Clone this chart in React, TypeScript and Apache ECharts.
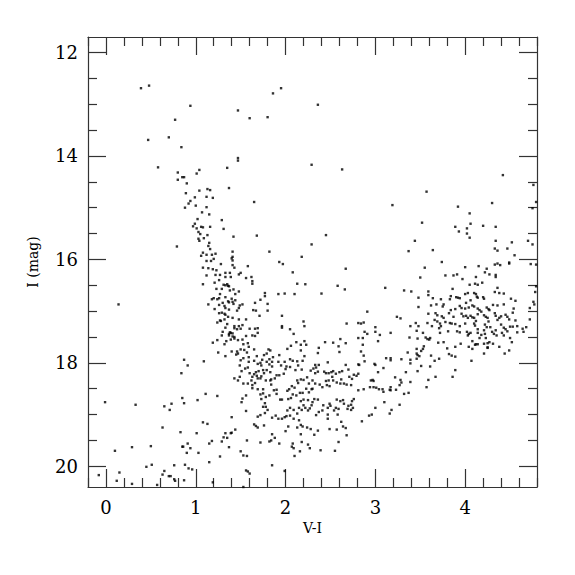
import React, { useEffect, useRef } from "react";
import * as echarts from "echarts";

// Colour-magnitude diagram: [V-I, I]
const upperField: number[][] = [
  [0.39,12.69],[0.48,12.64],[0.94,13.03],[1.47,13.12],[0.77,13.30],[0.70,13.64],[0.47,13.69],[0.84,13.83],
  [1.47,14.04],[1.47,14.09],[0.58,14.22],[1.35,14.23],[1.04,14.27],[1.01,14.34],[0.80,14.32],[0.85,14.41],
  [0.87,14.41],[0.80,14.46],[0.90,14.53],[1.95,12.69],[1.86,12.79],[2.36,13.01],[1.60,13.27],[1.80,13.25],
  [2.29,14.17],[2.63,14.26],[4.42,14.37],[4.76,14.56]
];

const giantBranch: number[][] = [
  [0.89,14.72],[1.04,14.67],[1.13,14.64],[1.16,14.66],[1.37,14.62],[0.99,14.80],[1.12,14.79],[1.19,14.81],
  [0.94,14.87],[0.92,14.92],[1.00,14.96],[0.88,15.00],[1.12,14.99],[1.07,15.09],[1.15,15.13],[1.02,15.22],
  [1.29,15.24],[0.99,15.31],[0.97,15.36],[1.06,15.37],[1.08,15.38],[1.01,15.40],[1.16,15.37],[1.31,15.41],
  [1.03,15.47],[1.05,15.51],[1.13,15.53],[1.09,15.59],[1.03,15.60],[1.04,15.64],[1.42,15.56],[1.15,15.68],
  [1.14,15.74],[0.79,15.75],[1.16,15.80],[1.08,15.87],[1.22,15.89],[1.41,15.85],[1.06,15.93],[1.12,15.91],
  [1.18,15.91],[1.41,15.95],[1.40,15.98],[1.20,15.99],[1.12,16.03],[1.17,16.03],[1.41,16.02],[1.28,16.09],
  [1.41,16.11],[1.08,16.16],[1.14,16.17],[1.19,16.19],[1.23,16.21],[1.43,16.16],[1.33,16.26],[1.38,16.26],
  [1.27,16.30],[1.22,16.30],[1.12,16.31],[1.33,16.34],[1.39,16.34],[1.21,16.45],[1.26,16.40],[1.08,16.48],
  [1.31,16.49],[1.33,16.50],[1.36,16.51],[1.37,16.52],[1.35,16.48],[1.23,16.57],[1.42,16.58],[1.29,16.57],
  [1.38,16.60],[1.44,16.67],[1.27,16.67],[1.33,16.73],[1.20,16.75],[1.18,16.77],[1.24,16.77],[1.26,16.75],
  [1.40,16.76],[1.44,16.79],[1.36,16.81],[1.37,16.83],[1.30,16.84],[1.42,16.86],[1.41,16.82],[1.14,16.87],
  [1.26,16.88],[0.14,16.87],[1.33,16.94],[1.32,16.90],[1.21,16.96],[1.37,16.97],[1.46,16.99],[1.29,17.03],
  [1.26,17.04],[1.33,17.07],[1.32,17.05],[1.36,17.11],[1.41,17.13],[1.32,17.16],[1.27,17.18],[1.28,17.19],
  [1.24,17.22],[1.35,17.25],[1.43,17.29],[1.33,17.32],[1.43,17.33],[1.46,17.35],[1.30,17.40],[1.38,17.41],
  [1.39,17.42],[1.41,17.43],[1.37,17.44],[1.29,17.47],[1.37,17.47],[1.41,17.49]
];

const midField: number[][] = [
  [1.65,14.89],[1.68,15.54],[2.45,15.53],[2.29,15.71],[1.82,15.85],[2.18,15.95],[1.93,16.05],[1.97,16.09],
  [1.58,16.13],[2.67,16.18],[1.50,16.26],[1.48,16.29],[2.08,16.25],[1.62,16.34],[1.56,16.36],[1.63,16.42],
  [1.63,16.47],[2.13,16.47],[2.22,16.48],[2.58,16.51],[2.66,16.58],[3.11,16.55],[1.48,16.62],[1.77,16.65],
  [1.77,16.71],[1.92,16.67],[1.99,16.66],[2.10,16.67],[2.40,16.66],[1.72,16.78],[1.52,16.87],[1.49,16.89],
  [1.48,16.94],[1.66,16.84],[1.80,16.86],[1.64,16.98],[1.67,16.99],[1.80,16.99],[1.71,17.09],[1.96,17.09],
  [2.91,17.01],[1.56,17.16],[1.48,17.16],[2.20,17.20],[1.52,17.27],[1.48,17.29],[1.96,17.29],[1.96,17.32],
  [2.21,17.29],[2.68,17.24],[2.81,17.23],[2.84,17.24],[2.87,17.22],[3.00,17.31],[1.50,17.34],[1.60,17.34],
  [1.66,17.34],[1.69,17.33],[2.05,17.35],[1.69,17.42],[2.09,17.44],[2.88,17.40],[2.91,17.44],[3.00,17.40],
  [3.05,17.46],[1.63,17.47],[1.66,17.48],[1.56,17.48]
];

const redClump: number[][] = [
  [3.57,14.69],[3.19,14.95],[4.30,14.91],[3.92,14.98],[4.79,14.89],[4.75,15.01],[4.05,15.11],[3.52,15.29],
  [4.06,15.31],[3.89,15.37],[4.20,15.35],[4.34,15.37],[4.02,15.40],[3.93,15.46],[4.02,15.50],[4.05,15.58],
  [3.44,15.64],[4.34,15.64],[4.52,15.67],[4.70,15.64],[4.75,15.71],[4.33,15.79],[4.36,15.83],[4.47,15.79],
  [3.37,15.84],[3.64,15.82],[4.55,15.92],[3.74,16.05],[4.33,16.10],[4.36,16.08],[4.39,16.11],[4.49,16.06],
  [4.49,16.08],[4.73,16.09],[4.79,16.10],[4.00,16.15],[3.55,16.16],[4.15,16.13],[4.24,16.18],[4.22,16.25],
  [4.27,16.29],[4.34,16.30],[4.34,16.34],[3.91,16.29],[3.87,16.31],[3.78,16.31],[4.12,16.34],[3.50,16.35],
  [3.97,16.38],[4.19,16.45],[4.14,16.49],[4.11,16.47],[4.05,16.49],[3.86,16.57],[4.36,16.55],[4.79,16.52],
  [3.32,16.60],[3.40,16.62],[3.59,16.62],[4.03,16.65],[4.10,16.65],[4.12,16.67],[4.33,16.63],[4.38,16.65],
  [4.43,16.66],[3.59,16.69],[3.48,16.74],[3.64,16.75],[3.84,16.71],[3.90,16.73],[3.92,16.74],[3.94,16.75],
  [4.00,16.67],[3.73,16.77],[3.83,16.77],[4.13,16.72],[4.14,16.74],[4.20,16.73],[4.21,16.76],[4.51,16.76],
  [4.56,16.80],[4.78,16.63],[4.76,16.82],[4.77,16.87],[4.72,16.94],[3.62,16.89],[3.68,16.87],[3.75,16.91],
  [3.76,16.87],[4.06,16.79],[4.01,16.84],[4.08,16.89],[4.10,16.91],[3.94,16.90],[3.96,16.94],[4.00,16.95],
  [4.04,16.93],[3.89,16.96],[3.84,16.98],[4.24,16.93],[4.26,16.96],[4.31,16.88],[4.36,16.89],[4.43,16.87],
  [3.48,16.92],[4.14,16.95],[4.16,16.98],[4.18,17.01],[3.59,17.05],[3.67,17.04],[3.69,17.08],[3.74,17.10],
  [3.82,17.04],[3.87,17.11],[3.96,17.05],[3.98,17.10],[4.01,17.09],[4.03,17.13],[4.06,17.09],[4.08,17.12],
  [4.10,17.13],[4.12,17.19],[4.14,17.06],[4.21,17.08],[4.23,17.11],[4.25,17.13],[4.27,16.98],[4.33,17.04],
  [4.34,17.09],[4.36,17.17],[4.38,17.13],[4.40,17.10],[4.45,17.07],[4.47,17.11],[4.49,17.16],[4.54,16.95],
  [4.53,17.03],[4.56,17.18],[3.24,17.11],[3.28,17.14],[3.39,17.29],[3.45,17.23],[3.48,17.29],[3.46,17.38],
  [3.53,17.42],[3.17,17.42],[3.58,17.23],[3.63,17.29],[3.66,17.17],[3.69,17.20],[3.72,17.24],[3.73,17.29],
  [3.71,17.33],[3.72,17.42],[3.76,17.13],[3.78,17.21],[3.83,17.23],[3.85,17.24],[3.81,17.39],[3.89,17.25],
  [3.94,17.29],[3.94,17.41],[3.91,17.39],[4.00,17.24],[4.02,17.40],[4.04,17.44],[4.06,17.42],[4.03,17.47],
  [4.10,17.24],[4.11,17.28],[4.14,17.35],[4.14,17.42],[4.18,17.46],[4.22,17.26],[4.24,17.31],[4.21,17.37],
  [4.22,17.44],[4.26,17.20],[4.28,17.31],[4.30,17.40],[4.32,17.44],[4.34,17.37],[4.35,17.47],[4.40,17.26],
  [4.43,17.32],[4.45,17.35],[4.47,17.39],[4.41,17.42],[4.43,17.47],[4.50,17.30],[4.53,17.30],[4.58,17.29],
  [4.58,17.41],[4.64,17.34],[4.65,17.40],[4.68,17.31],[4.72,17.16]
];

const lowerLeft: number[][] = [
  [1.43,17.50],[1.19,17.61],[1.24,17.56],[1.32,17.64],[1.34,17.58],[1.39,17.55],[1.43,17.53],[1.47,17.56],
  [1.25,17.80],[1.40,17.78],[1.46,17.78],[1.45,17.84],[1.47,17.82],[1.33,17.87],[0.87,17.94],[1.09,17.97],
  [0.91,18.05],[0.84,18.20],[1.43,18.30],[1.47,18.34],[0.85,18.68],[0.87,18.78],[1.11,18.60],[1.02,18.72],
  [1.24,18.64],[-0.01,18.76],[0.33,18.81],[0.65,18.84],[0.73,18.79],[0.71,18.91],[1.40,19.05],[1.08,19.15],
  [1.13,19.18],[0.63,19.25],[1.44,19.29],[0.83,19.34],[1.01,19.36],[1.33,19.36],[1.39,19.36],[1.40,19.35],
  [1.31,19.44],[1.35,19.45],[1.15,19.56],[1.18,19.51],[1.29,19.52],[0.91,19.56],[0.50,19.61],[0.29,19.63],
  [0.85,19.62],[0.86,19.62],[0.94,19.65],[1.37,19.63],[0.10,19.70],[0.90,19.74],[1.03,19.74],[1.27,19.81],
  [1.15,19.92],[0.45,20.01],[0.51,19.97],[0.76,19.98],[0.88,19.97],[0.92,20.04],[0.96,20.06],[0.65,20.09],
  [0.63,20.16],[0.70,20.19],[0.72,20.19],[0.76,20.25],[0.77,20.28],[0.15,20.12],[-0.08,20.17],[0.12,20.28],
  [0.29,20.34],[0.57,20.36],[0.87,20.27],[1.19,20.31]
];

const subgiants: number[][] = [
  [1.52,17.55],[1.58,17.62],[1.53,17.64],[1.59,17.69],[1.50,17.74],[1.54,17.75],[1.57,17.80],[1.65,17.74],
  [1.81,17.74],[1.83,17.76],[1.79,17.82],[1.76,17.85],[1.68,17.87],[1.86,17.89],[1.93,17.85],[2.02,17.73],
  [2.06,17.67],[2.12,17.60],[2.17,17.65],[2.17,17.76],[2.21,17.58],[2.23,17.65],[2.37,17.71],[2.36,17.81],
  [2.44,17.60],[2.53,17.61],[2.59,17.68],[2.60,17.79],[2.67,17.62],[2.61,17.54],[2.81,17.52],[2.86,17.52],
  [2.86,17.65],[2.84,17.78],[2.87,17.86],[3.03,17.58],[1.53,17.91],[1.59,17.89],[1.50,17.95],[1.59,17.98],
  [1.65,17.96],[1.69,18.02],[1.72,18.00],[1.74,17.94],[1.79,17.98],[1.82,17.93],[1.85,17.98],[1.82,18.03],
  [1.85,18.07],[1.92,17.98],[1.95,18.05],[1.99,17.98],[2.01,18.07],[2.05,17.93],[2.08,17.96],[2.13,17.97],
  [2.14,18.05],[2.19,17.96],[2.21,17.87],[2.18,18.13],[2.11,18.14],[2.05,18.08],[2.00,18.12],[1.98,18.21],
  [1.93,18.24],[1.90,18.24],[1.88,18.30],[1.84,18.32],[1.83,18.18],[1.79,18.14],[1.75,18.14],[1.70,18.16],
  [1.67,18.18],[1.65,18.22],[1.63,18.27],[1.68,18.25],[1.69,18.30],[1.72,18.30],[1.73,18.26],[1.76,18.20],
  [1.73,18.05],[1.58,18.09],[1.55,18.11],[1.51,18.16],[1.49,18.05],[1.60,18.20],[1.49,18.27],[1.53,18.40],
  [1.58,18.40],[1.63,18.43],[1.63,18.49],[1.62,18.34],[1.66,18.39],[1.69,18.51],[1.72,18.61],[1.75,18.59],
  [1.73,18.70],[1.78,18.66],[1.82,18.63],[1.77,18.78],[1.75,18.51],[1.78,18.34],[1.83,18.34],[1.84,18.42],
  [1.87,18.53],[1.90,18.52],[1.90,18.60],[1.94,18.71],[1.96,18.71],[2.02,18.54],[2.04,18.51],[2.03,18.70],
  [2.06,18.68],[2.08,18.61],[2.10,18.48],[2.07,18.45],[2.14,18.39],[2.13,18.34],[2.17,18.32],[2.20,18.33],
  [2.24,18.28],[2.26,18.40],[2.30,18.50],[2.30,18.34],[2.33,18.20],[2.36,18.17],[2.31,18.11],[2.34,18.09],
  [2.37,18.04],[2.33,18.04],[2.28,18.15],[2.43,18.17],[2.47,17.99],[2.45,18.20],[2.48,18.20],[2.51,18.18],
  [2.53,18.16],[2.52,18.27],[2.48,18.34],[2.46,18.43],[2.49,18.45],[2.56,18.21],[2.60,18.18],[2.63,18.16],
  [2.67,18.04],[2.70,18.13],[2.71,18.27],[2.74,18.31],[2.76,18.23],[2.79,18.25],[2.81,18.21],[2.68,18.42],
  [2.65,18.40],[2.61,18.40],[2.57,18.38],[2.62,18.32],[2.53,18.34],[2.45,18.35],[2.41,18.47],[2.38,18.42],
  [2.33,18.40],[2.29,18.51],[2.26,18.57],[2.23,18.50],[2.19,18.58],[2.16,18.58],[2.12,18.63],[2.17,18.74],
  [2.20,18.71],[2.25,18.72],[2.30,18.76],[2.32,18.70],[2.36,18.71],[2.29,18.82],[2.27,18.88],[2.25,18.92],
  [2.22,18.87],[2.20,18.82],[2.18,18.91],[2.15,18.87],[2.13,18.98],[2.09,18.91],[2.05,18.87],[2.02,18.92],
  [2.01,19.03],[1.99,19.05],[1.96,19.08],[1.92,19.08],[1.89,19.02],[1.85,19.06],[1.80,18.91],[1.78,18.85],
  [1.75,18.85],[1.77,18.97],[1.72,19.01],[1.69,19.04],[1.65,19.19],[1.67,19.22],[1.69,19.25],[1.76,19.21],
  [1.56,18.93],[1.52,18.69],[1.56,18.63],[1.51,18.76],[2.41,18.92],[2.37,18.95],[2.34,19.01],[2.42,18.82],
  [2.47,18.87],[2.50,18.83],[2.54,18.92],[2.56,18.87],[2.57,18.71],[2.61,18.74],[2.64,18.72],[2.65,18.79],
  [2.70,18.83],[2.73,18.81],[2.75,18.87],[2.69,18.89],[2.59,18.89],[2.58,19.00],[2.47,19.00],[2.47,19.08],
  [2.49,19.28],[2.57,19.29],[2.64,19.23],[2.67,19.26],[2.68,19.40],[2.59,19.53],[2.55,19.70],[2.39,19.69],
  [2.36,19.31],[2.32,19.39],[2.28,19.28],[2.24,19.25],[2.19,19.23],[2.15,19.11],[2.17,19.20],[2.13,19.25],
  [2.09,19.08],[2.05,19.02],[2.03,19.23],[2.00,19.32],[2.17,19.38],[2.18,19.53],[2.25,19.58],[2.27,19.65],
  [2.16,19.71],[2.09,19.65],[2.07,19.62],[2.08,19.56],[2.10,19.80],[1.93,19.56],[1.88,19.45],[1.84,19.50],
  [1.82,19.52],[1.85,19.38],[1.72,19.54],[1.57,19.50],[1.50,19.71],[1.53,19.79],[1.57,19.80],[1.85,19.98],
  [1.56,20.08],[1.58,20.10],[1.60,20.14],[1.99,20.09],[1.53,20.40],[2.81,18.03],[2.82,18.04],[2.88,17.97],
  [2.99,18.02],[3.00,18.04],[3.09,18.10],[3.12,17.91],[3.03,18.18],[2.97,18.33],[2.95,18.34],[2.98,18.35],
  [2.94,18.47],[2.98,18.47],[3.01,18.48],[3.04,18.51],[3.08,18.51],[3.09,18.56],[2.87,18.51],[2.81,18.53],
  [2.73,18.43],[3.00,18.87],[3.10,18.76],[2.93,19.02],[2.96,19.00],[2.85,19.13],[2.73,18.91],[2.62,19.14],
  [2.76,18.70],[2.74,18.74],[2.49,18.79]
];

const lowerRight: number[][] = [
  [3.38,17.51],[3.47,17.53],[3.56,17.51],[3.58,17.54],[3.60,17.55],[3.61,17.52],[3.70,17.61],[3.76,17.60],
  [3.95,17.63],[4.04,17.69],[4.08,17.58],[4.08,17.73],[4.11,17.65],[4.12,17.64],[4.14,17.64],[4.16,17.52],
  [4.21,17.63],[4.23,17.52],[4.25,17.62],[4.27,17.60],[4.31,17.63],[4.38,17.69],[4.44,17.82],[4.49,17.76],
  [4.50,17.52],[4.52,17.60],[4.25,17.71],[3.36,17.80],[3.46,17.82],[3.47,17.85],[3.49,17.87],[3.46,17.92],
  [3.46,17.73],[3.51,17.77],[3.53,17.73],[3.54,17.68],[3.17,17.91],[3.17,17.95],[3.29,17.93],[3.39,17.94],
  [3.39,18.01],[3.62,17.86],[3.66,17.96],[3.71,17.92],[3.80,17.72],[3.82,17.83],[3.85,17.86],[3.89,17.69],
  [3.89,17.88],[4.07,17.96],[4.21,17.82],[4.25,17.70],[3.51,18.06],[3.61,18.07],[3.47,18.16],[3.34,18.18],
  [3.22,18.28],[3.28,18.33],[3.29,18.38],[3.39,18.37],[3.27,18.43],[3.23,18.52],[3.17,18.47],[3.16,18.52],
  [3.17,18.53],[3.57,18.47],[3.59,18.33],[3.67,18.27],[3.86,18.27],[3.89,18.14],[3.32,18.60],[3.37,18.58],
  [3.27,18.81],[3.18,18.91],[3.16,18.98]
];

const xMajor = [0, 1, 2, 3, 4];
const xMinor = [-0.2, 0.2, 0.4, 0.6, 0.8, 1.2, 1.4, 1.6, 1.8, 2.2, 2.4, 2.6, 2.8, 3.2, 3.4, 3.6, 3.8, 4.2, 4.4, 4.6, 4.8];
const yMajor = [12, 14, 16, 18, 20];
const yMinor = [12.5, 13, 13.5, 14.5, 15, 15.5, 16.5, 17, 17.5, 18.5, 19, 19.5];

const FONT = "DejaVu Serif";
const AX = "#333";

export default function App() {
  const ref = useRef<HTMLDivElement>(null);
  useEffect(() => {
    document.body.style.margin = "0";
    const chart = echarts.init(ref.current!, null, { renderer: "svg" });
    const xBase = { type: "value", min: -0.2, max: 4.8, splitLine: { show: false } };
    const yBase = { type: "value", min: 11.7, max: 20.4, inverse: true, splitLine: { show: false } };
    const line = { show: true, onZero: false, lineStyle: { color: AX, width: 1.2 } };
    const noLine = { show: false, onZero: false };
    const tick = (vals: number[], len: number) => ({
      show: true, inside: true, length: len, customValues: vals, lineStyle: { color: AX, width: 1.2 },
    });
    const noLabel = { show: false };
    const mk = (data: number[][]) => ({
      type: "scatter", data, symbol: "rect", symbolSize: 2.4,
      itemStyle: { color: "#000" }, xAxisIndex: 0, yAxisIndex: 0, silent: true,
    });
    chart.setOption({
      animation: false,
      backgroundColor: "#fff",
      textStyle: { fontFamily: FONT },
      grid: { left: 88, right: 38, top: 37, bottom: 88, containLabel: false },
      xAxis: [
        {
          ...xBase, position: "bottom", axisLine: line, axisTick: tick(xMajor, 18),
          axisLabel: { customValues: xMajor, fontFamily: FONT, fontSize: 18, color: "#000", margin: 11 },
          name: "V-I", nameLocation: "middle", nameGap: 30,
          nameTextStyle: { fontFamily: FONT, fontSize: 14, color: "#000" },
        },
        { ...xBase, position: "bottom", axisLine: noLine, axisTick: tick(xMinor, 9), axisLabel: noLabel },
        { ...xBase, position: "top", axisLine: line, axisTick: tick(xMajor, 18), axisLabel: noLabel },
        { ...xBase, position: "top", axisLine: noLine, axisTick: tick(xMinor, 9), axisLabel: noLabel },
      ],
      yAxis: [
        {
          ...yBase, position: "left", axisLine: line, axisTick: tick(yMajor, 18),
          axisLabel: { customValues: yMajor, fontFamily: FONT, fontSize: 18, color: "#000", margin: 10 },
          name: "I (mag)", nameLocation: "middle", nameGap: 48, nameRotate: 90,
          nameTextStyle: { fontFamily: FONT, fontSize: 14, color: "#000" },
        },
        { ...yBase, position: "left", axisLine: noLine, axisTick: tick(yMinor, 9), axisLabel: noLabel },
        { ...yBase, position: "right", axisLine: line, axisTick: tick(yMajor, 18), axisLabel: noLabel },
        { ...yBase, position: "right", axisLine: noLine, axisTick: tick(yMinor, 9), axisLabel: noLabel },
      ],
      series: [
        mk(upperField), mk(giantBranch), mk(midField), mk(redClump),
        mk(lowerLeft), mk(subgiants), mk(lowerRight),
      ],
    });
    return () => chart.dispose();
  }, []);
  return <div ref={ref} style={{ width: 575, height: 575 }} />;
}
